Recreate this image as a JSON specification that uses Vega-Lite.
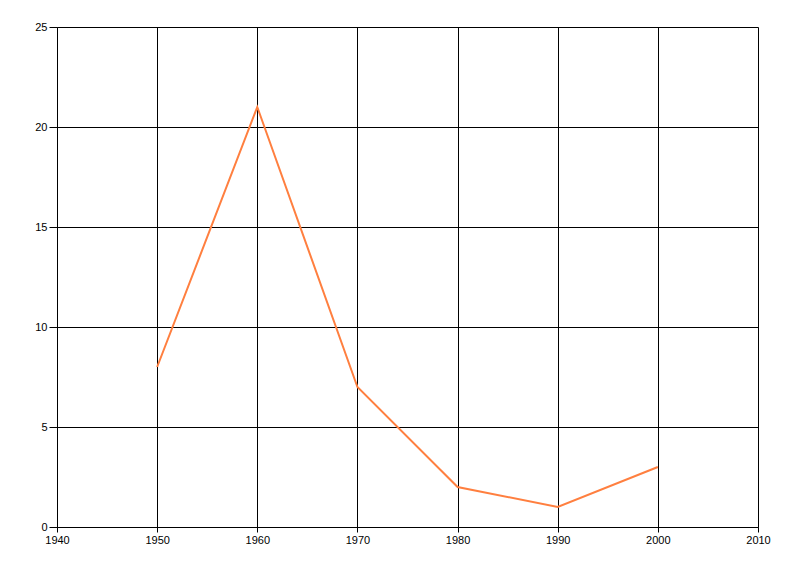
{
  "$schema": "https://vega.github.io/schema/vega-lite/v6.json",
  "autosize": "none",
  "padding": {"left": 57, "top": 27, "right": 42, "bottom": 49},
  "width": 701,
  "height": 500,
  "background": "white",
  "config": {
    "view": {"stroke": null},
    "axis": {
      "domainColor": "black",
      "gridColor": "black",
      "gridOpacity": 1,
      "gridWidth": 1,
      "tickColor": "black",
      "labelColor": "black",
      "labelFont": "Liberation Sans",
      "labelFontSize": 11,
      "labelFlush": false,
      "labelOverlap": false,
      "title": null
    }
  },
  "data": {
    "values": [
      {"year": 1950, "value": 8},
      {"year": 1960, "value": 21},
      {"year": 1970, "value": 7},
      {"year": 1980, "value": 2},
      {"year": 1990, "value": 1},
      {"year": 2000, "value": 3}
    ]
  },
  "mark": {"type": "line", "color": "#FF7F3F", "strokeWidth": 2},
  "encoding": {
    "x": {
      "field": "year",
      "type": "quantitative",
      "scale": {"domain": [1940, 2010], "nice": false, "zero": false},
      "axis": {"values": [1940, 1950, 1960, 1970, 1980, 1990, 2000, 2010], "format": "d", "tickSize": 5, "labelPadding": 2}
    },
    "y": {
      "field": "value",
      "type": "quantitative",
      "scale": {"domain": [0, 25], "nice": false},
      "axis": {"values": [0, 5, 10, 15, 20, 25], "tickSize": 8, "labelPadding": 2}
    }
  }
}
